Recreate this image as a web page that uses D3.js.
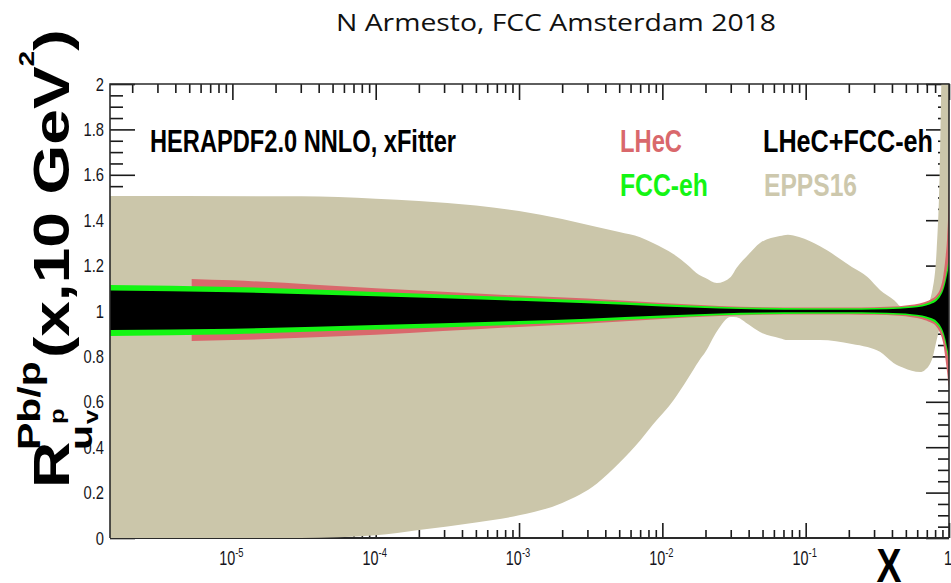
<!DOCTYPE html>
<html>
<head>
<meta charset="utf-8">
<script src="https://d3js.org/d3.v7.min.js"></script>
<style>
  body { margin: 0; background: #fff; }
  svg { display: block; font-family: "Liberation Sans", Arial, sans-serif; }
  .tk line { stroke: #1a1a1a; stroke-width: 1.6px; }
</style>
</head>
<body>
<div id="chart"></div>
<script>
// EPPS16 band
var eppsX  = [1.4e-6, 3e-5, 1e-4, 2e-4, 5e-4, 1e-3, 2e-3, 3.5e-3, 5e-3, 7e-3, 8.6e-3, 0.012, 0.015, 0.018, 0.02, 0.024, 0.03, 0.033, 0.04, 0.048, 0.066, 0.075, 0.09, 0.126, 0.21, 0.27, 0.33, 0.41, 0.48, 0.63, 0.68, 0.77, 0.82, 0.86, 0.89, 0.94, 1.0];
var eppsHi = [1.507, 1.505, 1.495, 1.485, 1.465, 1.44, 1.405, 1.37, 1.348, 1.325, 1.30, 1.25, 1.203, 1.16, 1.145, 1.123, 1.15, 1.19, 1.25, 1.3, 1.33, 1.336, 1.326, 1.285, 1.194, 1.15, 1.093, 1.05, 1.013, 1.005, 1.01, 1.1, 1.27, 1.6, 2.1, 2.6, 3.0];
var eppsLo = [0, 0, 0.012, 0.035, 0.068, 0.10, 0.154, 0.24, 0.33, 0.43, 0.50, 0.608, 0.70, 0.78, 0.82, 0.91, 0.974, 0.972, 0.94, 0.907, 0.88, 0.872, 0.872, 0.872, 0.855, 0.841, 0.82, 0.771, 0.75, 0.731, 0.74, 0.797, 0.872, 0.92, 0.93, 0.9, 0.85];

// LHeC band
var lhecX  = [5.2e-6, 1e-5, 1e-4, 1e-3, 3e-3, 1e-2, 0.025, 0.05, 0.1, 0.2, 0.3, 0.45, 0.55, 0.65, 0.74, 0.82, 0.87, 0.91, 0.94, 0.97, 0.99, 1.0];
var lhecHi = [1.141, 1.135, 1.10, 1.068, 1.055, 1.035, 1.022, 1.016, 1.015, 1.015, 1.017, 1.021, 1.027, 1.036, 1.05, 1.07, 1.1, 1.15, 1.22, 1.32, 1.45, 1.58];
var lhecLo = [0.868, 0.872, 0.895, 0.93, 0.945, 0.965, 0.978, 0.984, 0.985, 0.985, 0.983, 0.979, 0.973, 0.964, 0.95, 0.93, 0.9, 0.86, 0.8, 0.73, 0.68, 0.66];

// FCC-eh and LHeC+FCC-eh bands
var combX  = [1.4e-6, 1e-5, 1e-4, 1e-3, 3e-3, 1e-2, 0.025, 0.05, 0.1, 0.2, 0.3, 0.45, 0.55, 0.65, 0.74, 0.82, 0.87, 0.91, 0.94, 0.97, 1.0];
var fccHi  = [1.115, 1.106, 1.084, 1.06, 1.046, 1.03, 1.019, 1.014, 1.012, 1.012, 1.013, 1.017, 1.021, 1.028, 1.04, 1.057, 1.078, 1.105, 1.14, 1.185, 1.24];
var fccLo  = [0.89, 0.898, 0.918, 0.94, 0.953, 0.969, 0.981, 0.986, 0.988, 0.988, 0.987, 0.983, 0.979, 0.972, 0.96, 0.943, 0.922, 0.895, 0.862, 0.82, 0.775];
var combHi = [1.09, 1.083, 1.065, 1.045, 1.034, 1.02, 1.011, 1.007, 1.006, 1.006, 1.007, 1.01, 1.014, 1.02, 1.03, 1.045, 1.065, 1.09, 1.12, 1.16, 1.2];
var combLo = [0.916, 0.922, 0.938, 0.956, 0.966, 0.98, 0.989, 0.993, 0.994, 0.994, 0.993, 0.99, 0.986, 0.98, 0.97, 0.955, 0.935, 0.91, 0.88, 0.84, 0.80];

var yTicks = [0, 0.2, 0.4, 0.6, 0.8, 1, 1.2, 1.4, 1.6, 1.8, 2];
var yTickLabels = ["0", "0.2", "0.4", "0.6", "0.8", "1", "1.2", "1.4", "1.6", "1.8", "2"];
var xTicks = [1e-5, 1e-4, 1e-3, 1e-2, 1e-1, 1];
var xTickExps = ["-5", "-4", "-3", "-2", "-1", ""];

var legendLabels = ["HERAPDF2.0 NNLO, xFitter", "LHeC", "LHeC+FCC-eh", "FCC-eh", "EPPS16"];

var width = 951, height = 583;
var pL = 110, pR = 949, pT = 84, pB = 538;

var svg = d3.select("#chart").append("svg")
    .attr("width", width)
    .attr("height", height);

var x = d3.scaleLog().domain([1.4e-6, 1]).range([pL, pR]);
var y = d3.scaleLinear().domain([0, 2]).range([pB, pT]);

svg.append("clipPath").attr("id", "clip")
  .append("rect")
    .attr("x", pL).attr("y", pT)
    .attr("width", pR - pL).attr("height", pB - pT);

// ticks (drawn below the bands, as in the original)
var allX = x.ticks().filter(function(t) { return t >= x.domain()[0] && t <= 1; });
var isMajor = function(t) { return Math.abs(Math.log10(t) - Math.round(Math.log10(t))) < 1e-9; };
var xMinor = allX.filter(function(t) { return !isMajor(t); });
var yMinor = d3.range(0, 2.0001, 0.05).filter(function(v) { return Math.abs(v * 5 - Math.round(v * 5)) > 1e-6; });

function tickAxis(axis, tx, ty) {
  svg.append("g").attr("class", "tk")
      .attr("transform", "translate(" + tx + "," + ty + ")")
      .call(axis.tickFormat(""))
      .call(function(g) { g.select(".domain").remove(); });
}
tickAxis(d3.axisTop(x).tickValues(xTicks).tickSize(15), 0, pB);
tickAxis(d3.axisTop(x).tickValues(xMinor).tickSize(8), 0, pB);
tickAxis(d3.axisBottom(x).tickValues(xTicks).tickSize(16), 0, pT);
tickAxis(d3.axisBottom(x).tickValues(xMinor).tickSize(9), 0, pT);
tickAxis(d3.axisRight(y).tickValues(yTicks).tickSize(25), pL, 0);
tickAxis(d3.axisRight(y).tickValues(yMinor).tickSize(13), pL, 0);
tickAxis(d3.axisLeft(y).tickValues(yTicks).tickSize(23), pR, 0);
tickAxis(d3.axisLeft(y).tickValues(yMinor).tickSize(11), pR, 0);

svg.append("line")
    .attr("x1", pL).attr("x2", pR).attr("y1", pB).attr("y2", pB)
    .attr("stroke", "#2a2a2a").attr("stroke-width", 2);

// bands
var area = d3.area()
    .x(function(d) { return x(d.x); })
    .y0(function(d) { return y(d.lo); })
    .y1(function(d) { return y(d.hi); })
    .curve(d3.curveMonotoneX);

function band(xs, lo, hi, color) {
  var data = xs.map(function(v, i) { return { x: v, lo: lo[i], hi: hi[i] }; });
  svg.append("path")
      .datum(data)
      .attr("clip-path", "url(#clip)")
      .attr("fill", color)
      .attr("d", area);
}
band(eppsX, eppsLo, eppsHi, "#cbc6aa");
band(lhecX, lhecLo, lhecHi, "#d9686c");
band(combX, fccLo, fccHi, "#14f514");
band(combX, combLo, combHi, "#000000");

// frame
svg.append("path")
    .attr("d", "M" + pL + "," + pB + "V" + pT + "H" + pR + "V" + pB)
    .attr("fill", "none")
    .attr("stroke", "#2a2a2a")
    .attr("stroke-width", 1.6);

// y tick labels
yTicks.forEach(function(t, i) {
  svg.append("g")
      .attr("transform", "translate(104," + (y(t) + 6.5) + ") scale(0.82,1)")
    .append("text")
      .attr("text-anchor", "end")
      .attr("font-size", 18)
      .attr("fill", "#151520")
      .text(yTickLabels[i]);
});

// x tick labels
xTicks.forEach(function(t, i) {
  var txt = svg.append("g")
      .attr("transform", "translate(" + (x(t) - 1) + ",565) scale(0.72,1)")
    .append("text")
      .attr("text-anchor", "middle")
      .attr("fill", "#151520");
  if (xTickExps[i] === "") {
    txt.append("tspan").attr("font-size", 20).text("1");
  } else {
    txt.append("tspan").attr("font-size", 20).text("10");
    txt.append("tspan").attr("font-size", 13).attr("dy", -8).text(xTickExps[i]);
  }
});

// axis titles
svg.append("g")
    .attr("transform", "translate(889,582) scale(0.78,1)")
  .append("text")
    .attr("text-anchor", "middle")
    .attr("font-size", 48)
    .attr("font-weight", "bold")
    .text("X");

var yt = svg.append("g")
    .attr("transform", "translate(0,488) rotate(-90) scale(1.28,1)")
  .append("text")
    .attr("font-weight", "bold")
    .attr("fill", "#000");
yt.append("tspan").attr("x", 0).attr("y", 69).attr("font-size", 50).text("R");
yt.append("tspan").attr("x", 38 / 1.28).attr("y", 40).attr("font-size", 32).text("Pb/p");
yt.append("tspan").attr("x", 38 / 1.28).attr("y", 92).attr("font-size", 32).text("u");
yt.append("tspan").attr("x", 64 / 1.28).attr("y", 64).attr("font-size", 20).text("p");
yt.append("tspan").attr("x", 64 / 1.28).attr("y", 98).attr("font-size", 20).text("v");
yt.append("tspan").attr("x", 130 / 1.28).attr("y", 69).attr("font-size", 50).text("(x,10 GeV");
yt.append("tspan").attr("y", 34).attr("font-size", 22).text("2");
yt.append("tspan").attr("y", 69).attr("font-size", 50).text(")");

// legend
var legend = [
  { t: legendLabels[0], x: 150, y: 152, w: 306, c: "#000" },
  { t: legendLabels[1], x: 620, y: 152, w: 62, c: "#d9686c" },
  { t: legendLabels[2], x: 763, y: 152, w: 170, c: "#000" },
  { t: legendLabels[3], x: 620, y: 196, w: 88, c: "#14f514" },
  { t: legendLabels[4], x: 764, y: 196, w: 93, c: "#cdc8ad" }
];
legend.forEach(function(d) {
  svg.append("text")
      .attr("x", d.x).attr("y", d.y)
      .attr("font-size", 31)
      .attr("font-weight", "bold")
      .attr("fill", d.c)
      .attr("textLength", d.w)
      .attr("lengthAdjust", "spacingAndGlyphs")
      .text(d.t);
});

// header
svg.append("text")
    .attr("x", 556).attr("y", 31)
    .attr("text-anchor", "middle")
    .attr("font-family", "'Open Sans', 'Noto Sans', sans-serif")
    .attr("font-size", 24)
    .attr("fill", "#111")
    .attr("textLength", 440)
    .attr("lengthAdjust", "spacingAndGlyphs")
    .text("N Armesto, FCC Amsterdam 2018");
</script>
</body>
</html>
